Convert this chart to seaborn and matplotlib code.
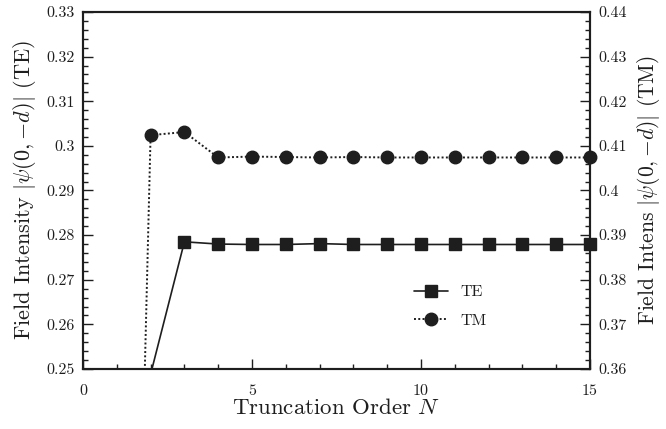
import numpy as np
import pandas as pd
import seaborn as sns
import matplotlib
matplotlib.use("Agg")
import matplotlib.pyplot as plt
from matplotlib.ticker import MultipleLocator, FuncFormatter
from matplotlib.lines import Line2D

# Data
n_te = [2, 3, 4, 5, 6, 7, 8, 9, 10, 11, 12, 13, 14, 15]
te = [0.2488, 0.2785, 0.2780, 0.2779, 0.2779, 0.2781, 0.2779, 0.2779,
      0.2779, 0.2779, 0.2779, 0.2779, 0.2779, 0.2779]
n_tm = [1, 2, 3, 4, 5, 6, 7, 8, 9, 10, 11, 12, 13, 14, 15]
tm = [0.105, 0.4124, 0.4131, 0.4074, 0.4076, 0.4075, 0.4074, 0.4075,
      0.4074, 0.4074, 0.4074, 0.4074, 0.4074, 0.4074, 0.4074]

te_lim = (0.25, 0.33)
tm_lim = (0.36, 0.44)

sns.set_style("ticks")
plt.rcParams["font.family"] = ["cmr10", "DejaVu Serif"]
plt.rcParams["mathtext.fontset"] = "cm"
plt.rcParams["axes.formatter.use_mathtext"] = True
plt.rcParams["axes.unicode_minus"] = False

ink = "#1e1e1e"
df_te = pd.DataFrame({"N": n_te, "val": te})
df_tm = pd.DataFrame({"N": n_tm, "val": tm})

fig = plt.figure(figsize=(6.66, 4.29), dpi=100)
ax = fig.add_axes([0.1246, 0.1399, 0.7613, 0.8321])
ax2 = ax.twinx()

# TE on left axis
sns.lineplot(data=df_te, x="N", y="val", ax=ax, color=ink, lw=1.2)
vis_te = df_te[(df_te.val >= te_lim[0]) & (df_te.val <= te_lim[1])]
ax.plot(vis_te.N, vis_te.val, ls="none", marker="s", ms=9, color=ink,
        clip_on=False, zorder=5)

# TM on right axis
sns.lineplot(data=df_tm, x="N", y="val", ax=ax2, color=ink, lw=1.4,
             linestyle=(0, (1, 1.2)))
vis_tm = df_tm[(df_tm.val >= tm_lim[0]) & (df_tm.val <= tm_lim[1])]
ax2.plot(vis_tm.N, vis_tm.val, ls="none", marker="o", ms=9, color=ink,
         clip_on=False, zorder=5)

fmt = FuncFormatter(lambda v, p: "%g" % round(v, 4))
for a, lim in [(ax, te_lim), (ax2, tm_lim)]:
    a.set_xlim(0, 15)
    a.set_ylim(*lim)
    a.yaxis.set_major_locator(MultipleLocator(0.01))
    a.yaxis.set_minor_locator(MultipleLocator(0.002))
    a.yaxis.set_major_formatter(fmt)
    a.tick_params(which="both", direction="in", colors=ink, labelsize=11.5,
                  width=1, top=False)
    a.tick_params(which="major", length=7)
    a.tick_params(which="minor", length=3.6)
    for s in a.spines.values():
        s.set_linewidth(1.5)
        s.set_color(ink)

ax.xaxis.set_major_locator(MultipleLocator(5))
ax.xaxis.set_minor_locator(MultipleLocator(1))
ax.xaxis.set_major_formatter(fmt)
ax.tick_params(axis="x", pad=11)
ax.tick_params(axis="y", right=False, pad=6)
ax2.tick_params(axis="y", left=False, pad=6)

ax.set_xlabel("Truncation Order $N$", fontsize=16.5, color=ink, labelpad=0)
ax.set_ylabel(r"Field Intensity $|\psi(0,{-}d)|$ (TE)", fontsize=16,
              color=ink, labelpad=6)
ax2.set_ylabel(r"Field Intens $|\psi(0,{-}d)|$ (TM)", fontsize=15.5,
               color=ink, labelpad=6)

handles = [
    Line2D([], [], color=ink, lw=1.2, marker="s", ms=9),
    Line2D([], [], color=ink, lw=1.4, linestyle=(0, (1, 1.2)), marker="o", ms=9),
]
ax2.legend(handles, ["TE", "TM"], loc="center left",
           bbox_to_anchor=(0.625, 0.175), frameon=False, fontsize=11.5,
           handlelength=2.1, labelspacing=0.9, labelcolor=ink)

fig.savefig("out.png", dpi=100)
